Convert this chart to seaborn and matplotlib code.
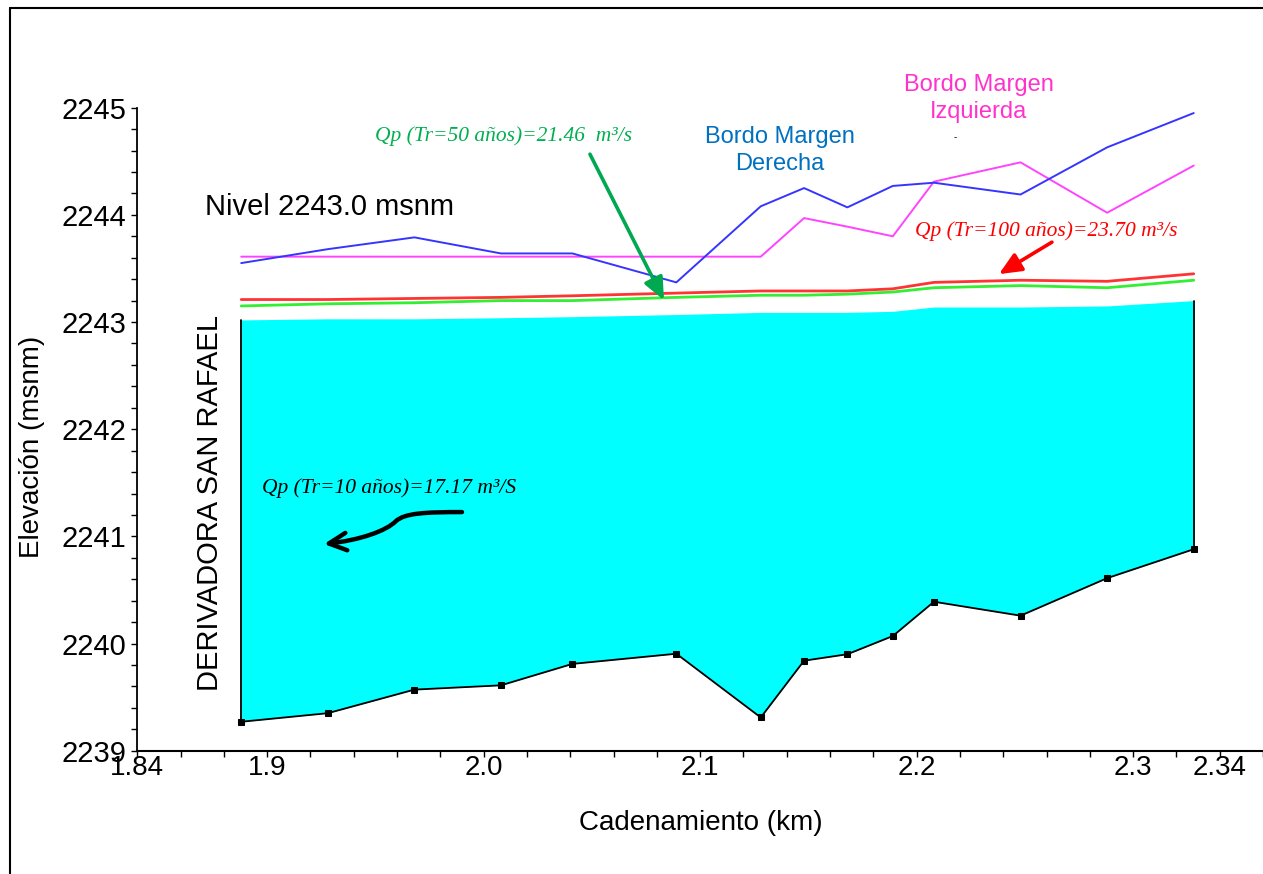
import numpy as np
import pandas as pd
import matplotlib
matplotlib.use("Agg")
import matplotlib.pyplot as plt
from matplotlib.path import Path
from matplotlib.patches import FancyArrowPatch
import seaborn as sns

# ---------------- data ----------------
stations = [1.888, 1.928, 1.968, 2.008, 2.041, 2.089, 2.128, 2.148, 2.168, 2.189, 2.208, 2.248, 2.288, 2.328]
ground = [2239.27, 2239.35, 2239.57, 2239.61, 2239.81, 2239.905, 2239.31, 2239.84, 2239.90, 2240.07, 2240.39, 2240.26, 2240.61, 2240.88]
wse_tr10 = [2243.02, 2243.03, 2243.03, 2243.04, 2243.05, 2243.07, 2243.09, 2243.09, 2243.09, 2243.10, 2243.14, 2243.14, 2243.15, 2243.20]
wse_tr50 = [2243.15, 2243.17, 2243.18, 2243.20, 2243.20, 2243.23, 2243.25, 2243.25, 2243.26, 2243.28, 2243.32, 2243.34, 2243.32, 2243.39]
wse_tr100 = [2243.21, 2243.21, 2243.22, 2243.23, 2243.245, 2243.27, 2243.29, 2243.29, 2243.29, 2243.31, 2243.37, 2243.39, 2243.38, 2243.45]
bank_right = [2243.55, 2243.68, 2243.79, 2243.64, 2243.64, 2243.37, 2244.08, 2244.25, 2244.07, 2244.27, 2244.30, 2244.19, 2244.63, 2244.95]
bank_left = [2243.61, 2243.61, 2243.61, 2243.61, 2243.61, 2243.61, 2243.61, 2243.97, 2243.89, 2243.80, 2244.31, 2244.49, 2244.02, 2244.46]

xtick_vals = [1.84, 1.9, 2.0, 2.1, 2.2, 2.3, 2.34]
xtick_labels = ["1.84", "1.9", "2.0", "2.1", "2.2", "2.3", "2.34"]
ytick_vals = [2239, 2240, 2241, 2242, 2243, 2244, 2245]
ytick_labels = ["2239", "2240", "2241", "2242", "2243", "2244", "2245"]

df = pd.DataFrame({"x": stations, "ground": ground, "tr10": wse_tr10, "tr50": wse_tr50,
                   "tr100": wse_tr100, "right": bank_right, "left": bank_left})

# ---------------- style ----------------
sns.set_style("white")
plt.rcParams["font.family"] = ["Liberation Sans", "DejaVu Sans"]
plt.rcParams["text.color"] = "black"
plt.rcParams["axes.labelcolor"] = "black"
plt.rcParams["xtick.color"] = "black"
plt.rcParams["ytick.color"] = "black"

W, H = 1263, 874
fig = plt.figure(figsize=(W / 100, H / 100), dpi=100)
ax = fig.add_axes([137.3 / W, 123.3 / H, (W - 137.3) / W, 643 / H])

XMIN, XMAX = 1.84, 2.36
YMIN, YMAX = 2239, 2245
ax.set_xlim(XMIN, XMAX)
ax.set_ylim(YMIN, YMAX)


def px(xp, yp):
    """convert reference-pixel position to data coords (for annotations)."""
    return (XMIN + (xp - 137.3) / 2165.0, YMIN + (750.7 - yp) / 107.2)


# water fill
ax.fill_between(df["x"], df["ground"], df["tr10"], color="#00ffff", lw=0, zorder=1)
# side walls of the section
ax.plot([df["x"].iloc[0]] * 2, [df["ground"].iloc[0], df["tr10"].iloc[0]], color="black", lw=1.3, zorder=3)
ax.plot([df["x"].iloc[-1]] * 2, [df["ground"].iloc[-1], df["tr10"].iloc[-1]], color="black", lw=1.3, zorder=3)

sns.lineplot(data=df, x="x", y="tr50", ax=ax, color="#33ee33", lw=2.0, sort=False, estimator=None, zorder=4)
sns.lineplot(data=df, x="x", y="tr100", ax=ax, color="#ff3333", lw=2.0, sort=False, estimator=None, zorder=4)
sns.lineplot(data=df, x="x", y="left", ax=ax, color="#ff44ff", lw=1.4, sort=False, estimator=None, zorder=5)
sns.lineplot(data=df, x="x", y="right", ax=ax, color="#3535ff", lw=1.4, sort=False, estimator=None, zorder=5)
sns.lineplot(data=df, x="x", y="ground", ax=ax, color="black", lw=1.3, marker="s", markersize=4,
             markeredgecolor="black", sort=False, estimator=None, zorder=6)

# ---------------- axes ----------------
for s in ["top", "right"]:
    ax.spines[s].set_visible(False)
ax.spines["left"].set_color("black")
ax.spines["bottom"].set_color("black")
ax.spines["left"].set_linewidth(1.3)
ax.spines["bottom"].set_linewidth(1.5)

ax.set_xticks(xtick_vals)
ax.set_xticklabels(xtick_labels)
ax.set_xticks(np.arange(1.84, 2.3601, 0.02), minor=True)
ax.set_yticks(ytick_vals)
ax.set_yticklabels(ytick_labels)
ax.set_yticks(np.arange(2239, 2245.01, 0.2), minor=True)
ax.tick_params(axis="both", which="both", direction="out", length=4, width=1, color="black",
               bottom=True, left=True, top=False, right=False)
ax.tick_params(axis="x", which="major", labelsize=20, pad=-1, labelcolor="black")
ax.tick_params(axis="y", which="major", labelsize=21, pad=4, labelcolor="black")
ax.set_xlabel("")
ax.set_ylabel("")
ax.grid(False)

fig.text(701 / W, 1 - 823 / H, "Cadenamiento (km)", fontsize=20, ha="center", va="center", color="black")
fig.text(32 / W, 1 - 447 / H, "Elevación (msnm)", fontsize=20, ha="center", va="center", rotation=90, color="black")

# ---------------- annotations ----------------
ax.text(*px(205, 207), "Nivel 2243.0 msnm", fontsize=21, ha="left", va="center", color="black")
ax.text(*px(210, 503), "DERIVADORA SAN RAFAEL", fontsize=21, ha="center", va="center", rotation=90, color="black")
ax.text(*px(780, 150), "Bordo Margen\nDerecha", fontsize=17, ha="center", va="center",
        color="#0070c0", linespacing=1.3, clip_on=False)
ax.text(*px(979, 98), "Bordo Margen\nIzquierda", fontsize=17, ha="center", va="center",
        color="#ff33cc", linespacing=1.3, clip_on=False)
ax.text(*px(955, 137), "-", fontsize=7, ha="center", va="center", color="black")

serif = dict(family=["Liberation Serif", "DejaVu Serif"], style="italic", fontsize=15.5)
ax.text(*px(504, 136), "Qp (Tr=50 años)=21.46  m³/s", color="#00b050", ha="center", va="center", **serif)
ax.text(*px(1046, 231), "Qp (Tr=100 años)=23.70 m³/s", color="#ff0000", ha="center", va="center", **serif)
ax.text(*px(389, 488), "Qp (Tr=10 años)=17.17 m³/S", color="black", ha="center", va="center", **serif)

ax.annotate("", xy=px(664, 300), xytext=px(590, 154),
            arrowprops=dict(arrowstyle="-|>,head_length=0.9,head_width=0.4", color="#00a850",
                            lw=2.6, shrinkA=0, shrinkB=0, mutation_scale=15), zorder=7)
ax.annotate("", xy=px(999, 274), xytext=px(1052, 242),
            arrowprops=dict(arrowstyle="-|>,head_length=0.9,head_width=0.4", color="#ff0000",
                            lw=2.6, shrinkA=0, shrinkB=0, mutation_scale=15), zorder=7)

verts = [px(462, 512), px(425, 512), px(405, 513), px(396, 521),
         px(386, 531), px(360, 540), px(324, 544)]
codes = [Path.MOVETO, Path.CURVE4, Path.CURVE4, Path.CURVE4, Path.CURVE4, Path.CURVE4, Path.CURVE4]
curve = FancyArrowPatch(path=Path(verts, codes), arrowstyle="->,head_length=0.7,head_width=0.35",
                        lw=3.2, color="black", mutation_scale=18, zorder=7)
ax.add_patch(curve)

# figure frame
fig.add_artist(plt.Line2D([10 / W, 10 / W], [0, 1 - 8 / H], color="black", lw=1.5, transform=fig.transFigure))
fig.add_artist(plt.Line2D([10 / W, 1], [1 - 8 / H, 1 - 8 / H], color="black", lw=1.5, transform=fig.transFigure))

fig.savefig("out.png", dpi=100)
